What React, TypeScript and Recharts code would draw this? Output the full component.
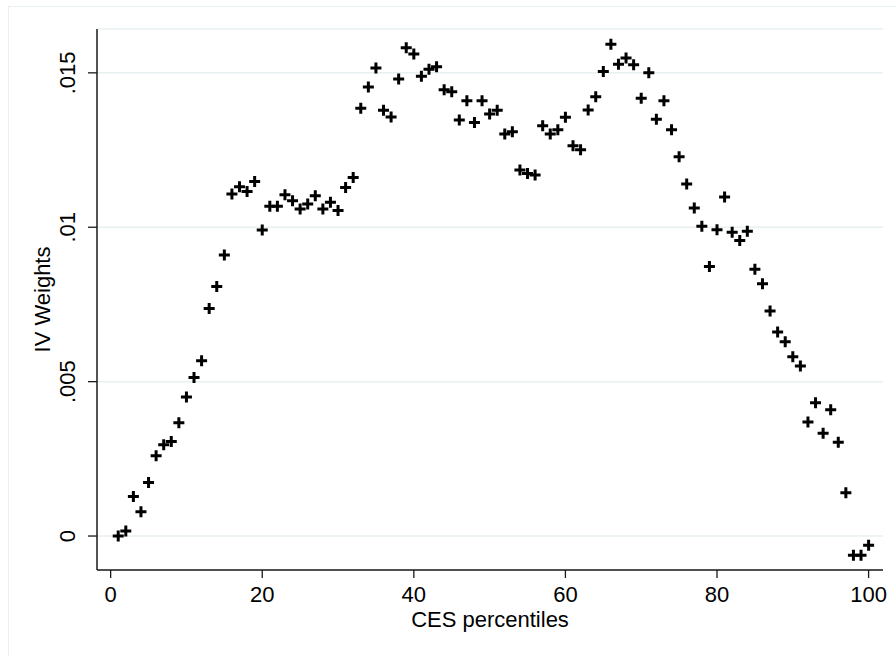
import { CartesianGrid, Scatter, ScatterChart, XAxis, YAxis } from "recharts";

// CES percentile bins (x) and the IV weight estimated for each bin (y)
const percentiles = [
  1, 2, 3, 4, 5, 6, 7, 8, 9, 10, 11, 12, 13, 14, 15, 16, 17, 18, 19, 20,
  21, 22, 23, 24, 25, 26, 27, 28, 29, 30, 31, 32, 33, 34, 35, 36, 37, 38, 39, 40,
  41, 42, 43, 44, 45, 46, 47, 48, 49, 50, 51, 52, 53, 54, 55, 56, 57, 58, 59, 60,
  61, 62, 63, 64, 65, 66, 67, 68, 69, 70, 71, 72, 73, 74, 75, 76, 77, 78, 79, 80,
  81, 82, 83, 84, 85, 86, 87, 88, 89, 90, 91, 92, 93, 94, 95, 96, 97, 98, 99, 100,
];

const weights = [
  0.0, 0.00016, 0.00128, 0.00079, 0.00173, 0.0026, 0.00296, 0.00306, 0.00367, 0.0045,
  0.00513, 0.00568, 0.00737, 0.00808, 0.0091, 0.01108, 0.01131, 0.01116, 0.01148, 0.00991,
  0.01068, 0.01068, 0.01105, 0.01086, 0.01059, 0.01075, 0.01102, 0.01059, 0.01081, 0.01054,
  0.01129, 0.01161, 0.01385, 0.01454, 0.01516, 0.01379, 0.01357, 0.0148, 0.01581, 0.01561,
  0.01489, 0.01512, 0.0152, 0.01445, 0.01439, 0.01347, 0.0141, 0.01339, 0.0141, 0.01367,
  0.01379, 0.01302, 0.01309, 0.01185, 0.01174, 0.01169, 0.01329, 0.01302, 0.01316, 0.01356,
  0.01264, 0.01251, 0.0138, 0.01423, 0.01504, 0.01593, 0.01528, 0.01548, 0.01526, 0.01418,
  0.015, 0.0135, 0.0141, 0.01316, 0.01228, 0.0114, 0.01062, 0.01003, 0.00873, 0.00992,
  0.01098, 0.00984, 0.00957, 0.00987, 0.00864, 0.00817, 0.00729, 0.00661, 0.00629, 0.00581,
  0.00551, 0.00369, 0.00432, 0.00333, 0.00409, 0.00304, 0.0014, -0.00062, -0.00062, -0.0003,
];

const xTicks = [0, 20, 40, 60, 80, 100];
const yTicks = [0, 0.005, 0.01, 0.015];

const FONT = "'Liberation Sans', Arial, sans-serif";
const GRID = "#E8F0F2";
const AXIS = "#1a1a1a";

const data = percentiles.map((p, i) => ({ pct: p, w: weights[i] }));

// Stata-style label: drop the leading zero (".005")
const fmtY = (v: number) => (v === 0 ? "0" : String(v).replace(/^0/, ""));

function PlusMarker(props: { cx?: number; cy?: number }) {
  const { cx = 0, cy = 0 } = props;
  const r = 5.5;
  return (
    <path
      d={`M${cx - r},${cy}H${cx + r}M${cx},${cy - r}V${cy + r}`}
      stroke="#000"
      strokeWidth={3}
      fill="none"
    />
  );
}

function YTick(props: any) {
  const { x, y, payload } = props;
  const bx = x - 11;
  return (
    <text
      x={bx}
      y={y}
      transform={`rotate(-90 ${bx} ${y})`}
      textAnchor="middle"
      fontFamily={FONT}
      fontSize={22}
      fill="#000"
    >
      {fmtY(payload.value)}
    </text>
  );
}

function XTick(props: any) {
  const { x, y, payload } = props;
  return (
    <text x={x} y={y + 22} textAnchor="middle" fontFamily={FONT} fontSize={22} fill="#000">
      {payload.value}
    </text>
  );
}

function XTitle(props: any) {
  const { viewBox } = props;
  return (
    <text
      x={viewBox.x + viewBox.width / 2}
      y={viewBox.y + 57}
      textAnchor="middle"
      fontFamily={FONT}
      fontSize={22}
      fill="#000"
    >
      CES percentiles
    </text>
  );
}

function YTitle(props: any) {
  const { viewBox } = props;
  const bx = viewBox.x + 50;
  const cy = viewBox.y + viewBox.height / 2;
  return (
    <text
      x={bx}
      y={cy}
      transform={`rotate(-90 ${bx} ${cy})`}
      textAnchor="middle"
      fontFamily={FONT}
      fontSize={22}
      fill="#000"
    >
      IV Weights
    </text>
  );
}

export default function App() {
  return (
    <div
      style={{
        position: "absolute",
        left: 0,
        top: 0,
        width: 896,
        height: 656,
        background: "#fff",
        overflow: "hidden",
      }}
    >
      {/* faint outer graph-region frame */}
      <div
        style={{
          position: "absolute",
          left: 8,
          top: 6,
          width: 900,
          height: 700,
          border: `1.5px solid ${GRID}`,
        }}
      />
      <ScatterChart
        width={896}
        height={656}
        margin={{ top: 29, right: 13, bottom: 0, left: 0 }}
        style={{ position: "absolute", left: 0, top: 0 }}
      >
        <CartesianGrid vertical={false} stroke={GRID} strokeWidth={1.5} />
        <XAxis
          type="number"
          dataKey="pct"
          domain={[-1.8, 101.9]}
          ticks={xTicks}
          allowDataOverflow
          height={86}
          tickSize={8}
          stroke={AXIS}
          strokeWidth={1.5}
          tickLine={{ stroke: AXIS, strokeWidth: 1.3 }}
          tick={<XTick />}
          label={<XTitle />}
        />
        <YAxis
          type="number"
          dataKey="w"
          domain={[-0.0011, 0.01642]}
          ticks={yTicks}
          allowDataOverflow
          width={97}
          tickSize={9}
          stroke={AXIS}
          strokeWidth={1.5}
          tickLine={{ stroke: AXIS, strokeWidth: 1.3 }}
          tick={<YTick />}
          label={<YTitle />}
        />
        <Scatter data={data} shape={<PlusMarker />} isAnimationActive={false} />
      </ScatterChart>
    </div>
  );
}
